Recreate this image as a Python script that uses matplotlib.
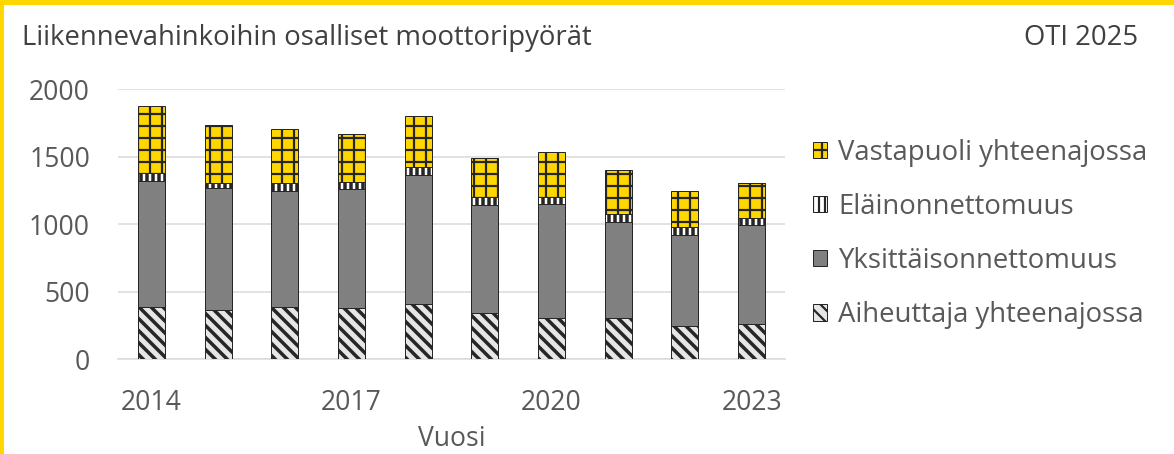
import matplotlib
matplotlib.use("Agg")
import matplotlib.pyplot as plt
import numpy as np

years = [2014, 2015, 2016, 2017, 2018, 2019, 2020, 2021, 2022, 2023]
aiheuttaja = [387, 363, 387, 380, 407, 343, 304, 304, 247, 257]
yksittais = [934, 901, 857, 882, 958, 795, 844, 711, 671, 738]
elain = [54, 37, 57, 49, 59, 60, 50, 57, 62, 49]
vastapuoli = [501, 432, 400, 356, 376, 293, 333, 328, 267, 257]

tick_years = [2014, 2017, 2020, 2023]
y_ticks = [0, 500, 1000, 1500, 2000]

series_names = ["Aiheuttaja yhteenajossa", "Yksittäisonnettomuus",
                "Eläinonnettomuus", "Vastapuoli yhteenajossa"]

plt.rcParams['font.family'] = ['Open Sans', 'DejaVu Sans']
TXT = '#595959'

DPI = 72
fig = plt.figure(figsize=(1174 / DPI, 454 / DPI), dpi=DPI)
W, H = 1174, 454
ax = fig.add_axes([118 / W, (H - 359) / H, (785 - 118) / W, 270 / H])

x = np.arange(len(years))
bw = 0.405
styles = [
    dict(color='#e6e6e6', hatch='\\\\', hlw=3.5),
    dict(color='#808080', hatch=None, hlw=1.0),
    dict(color='white', hatch='||', hlw=3.5),
    dict(color='#ffd700', hatch='+', hlw=2.2),
]
data = [aiheuttaja, yksittais, elain, vastapuoli]
bottom = np.zeros(len(years))
handles = []
for vals, st, name in zip(data, styles, series_names):
    plt.rcParams['hatch.linewidth'] = st['hlw']
    plt.rcParams['hatch.color'] = '#000000'
    bars = ax.bar(x, vals, bw, bottom=bottom, color=st['color'],
                  edgecolor='#262626', linewidth=1.0, hatch=st['hatch'],
                  label=name, zorder=3)
    for b in bars:
        if hasattr(b, 'set_hatch_linewidth'):
            b.set_hatch_linewidth(st['hlw'])
    handles.append(bars)
    bottom = bottom + np.array(vals)

ax.set_xlim(-0.5, len(years) - 0.5)
ax.set_ylim(0, 2000)
ax.set_yticks(y_ticks)
ax.set_yticklabels([str(v) for v in y_ticks])
ax.set_xticks([years.index(y) for y in tick_years])
ax.set_xticklabels([str(y) for y in tick_years])
ax.grid(axis='y', color='#d9d9d9', linewidth=1.5, zorder=0)
for s in ['top', 'right', 'left']:
    ax.spines[s].set_visible(False)
ax.spines['bottom'].set_color('#d9d9d9')
ax.spines['bottom'].set_linewidth(1.5)
ax.tick_params(axis='both', length=0, labelsize=26.5, colors=TXT)
ax.tick_params(axis='y', pad=28)
ax.tick_params(axis='x', pad=30)
ax.set_xlabel('Vuosi', fontsize=26.5, color=TXT, labelpad=8)

leg = fig.legend(handles[::-1], series_names[::-1], loc='center left',
                 bbox_to_anchor=(788 / W, (H - 234) / H), frameon=False,
                 fontsize=27.5, labelcolor=TXT, handlelength=0.53,
                 handleheight=0.53, handletextpad=0.4, labelspacing=0.95)

fig.text(22 / W, 1 - 38 / H, 'Liikennevahinkoihin osalliset moottoripyörät',
         fontsize=27.5, color='#404040', va='center', ha='left')
fig.text(1138 / W, 1 - 38 / H, 'OTI 2025', fontsize=27.5, color='#404040',
         va='center', ha='right')

# yellow frame on top and left
fig.patches.append(plt.Rectangle((0, 1 - 4 / H), 1, 4 / H, transform=fig.transFigure,
                                 color='#ffd700', zorder=10))
fig.patches.append(plt.Rectangle((0, 0), 3 / W, 1, transform=fig.transFigure,
                                 color='#ffd700', zorder=10))

fig.savefig('out.png', dpi=DPI)
